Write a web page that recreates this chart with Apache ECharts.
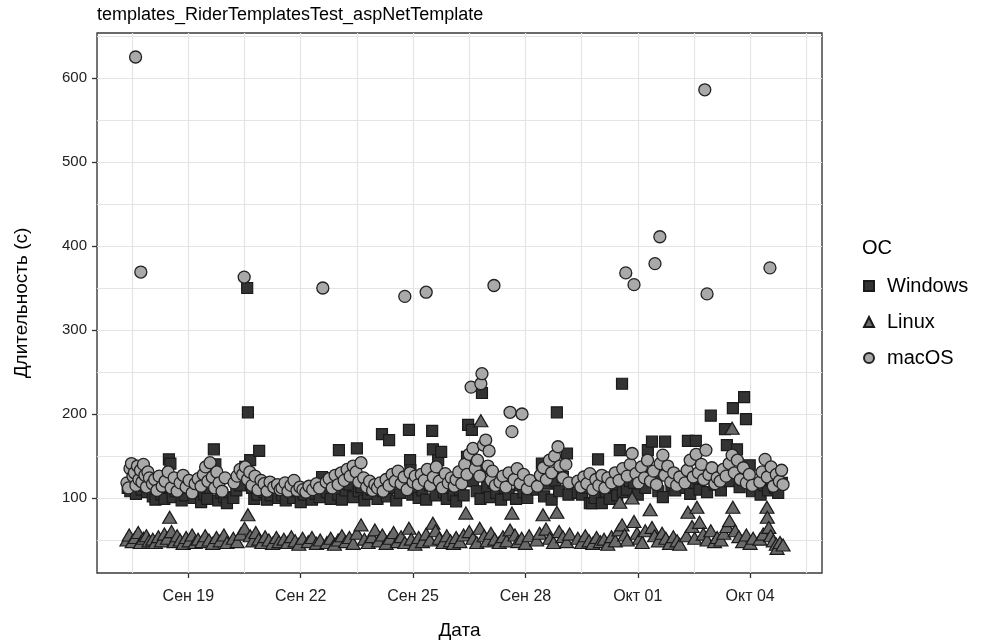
<!DOCTYPE html>
<html>
<head>
<meta charset="utf-8">
<script src="https://cdn.jsdelivr.net/npm/echarts@6/dist/echarts.min.js"></script>
<style>
  html, body { margin: 0; padding: 0; background: #fff; }
  #chart { width: 982px; height: 642px; }
</style>
</head>
<body>
<div id="chart"></div>
<script>
// Run durations per OS: [day (September numbering, Oct 1 = 31), seconds]
const windowsRuns = [
  [17.38,112],[17.45,108],[17.52,118],[17.6,105],[17.68,121],[17.75,110],[17.82,115],[17.9,107],[17.97,119],
  [18.05,102],[18.12,98],[18.2,111],[18.28,104],[18.36,99],[18.44,113],[18.48,146],[18.52,141],[18.58,101],[18.66,108],[18.74,120],[18.82,97],[18.9,103],[18.98,112],[19.06,116],[19.14,100],[19.22,109],
  [19.34,95],[19.42,104],[19.5,99],[19.58,112],[19.68,158],[19.72,140],[19.8,97],[19.88,106],[19.96,101],[20.03,94],
  [20.2,100],[20.28,109],[20.38,115],[20.46,128],[20.52,137],[20.57,350],[20.59,202],[20.65,145],[20.7,112],[20.76,99],[20.84,104],[20.89,156],[20.95,118],[21.02,107],[21.1,98],[21.2,103],[21.3,111],[21.4,100],
  [21.5,103],[21.6,97],[21.7,112],[21.8,100],[21.9,108],[22.0,95],[22.08,104],
  [22.2,110],[22.3,98],[22.4,105],[22.5,101],[22.57,125],
  [22.7,107],[22.8,99],[22.9,112],[23.0,104],[23.02,157],[23.1,98],[23.2,109],[23.3,116],[23.4,101],[23.5,159],[23.55,108],[23.62,113],[23.7,97],[23.8,105],[23.9,110],
  [24.05,99],[24.17,176],[24.2,108],[24.3,102],[24.36,169],[24.45,112],[24.55,97],[24.65,106],[24.75,118],[24.89,181],[24.92,145],[24.93,133],[24.98,104],[25.05,111],
  [25.15,100],[25.25,109],[25.35,98],[25.45,115],[25.51,180],[25.53,158],[25.6,103],[25.67,145],[25.75,155],[25.82,107],[25.9,99],[26.0,112],[26.08,104],
  [26.15,96],[26.25,110],[26.35,103],[26.44,149],[26.47,187],[26.57,181],[26.6,120],[26.7,108],[26.8,99],[26.84,225],[26.9,135],[26.98,113],[27.05,101],[27.15,118],[27.22,106],
  [27.35,98],[27.45,112],[27.55,104],[27.65,128],[27.75,99],[27.85,115],[27.95,107],[28.05,100],
  [28.3,110],[28.44,141],[28.5,102],[28.6,117],[28.7,98],[28.8,120],[28.84,202],[28.9,108],[29.0,125],[29.11,153],[29.15,104],
  [29.4,106],[29.51,104],[29.6,112],[29.72,94],[29.78,94],[29.85,100],[29.94,146],[30.04,94],[30.15,108],[30.25,99],[30.35,115],[30.45,103],[30.52,157],[30.58,236],[30.6,107],[30.71,110],[30.79,120],
  [30.9,118],[31.0,104],[31.1,126],[31.2,112],[31.27,157],[31.38,167],[31.45,121],[31.55,108],[31.67,101],[31.73,167],[31.8,130],[31.9,115],[32.0,109],[32.1,124],
  [32.28,112],[32.34,168],[32.4,105],[32.5,118],[32.55,168],[32.65,110],[32.75,124],[32.85,107],[32.95,198],[33.05,116],
  [33.22,109],[33.33,182],[33.38,163],[33.45,120],[33.54,207],[33.65,158],[33.72,113],[33.84,220],[33.89,194],[33.99,139],[34.05,108],
  [34.28,104],[34.38,115],[34.48,109],[34.58,121],[34.66,112],[34.75,106],[34.85,118]
];

const linuxRuns = [
  [17.36,50],[17.42,56],[17.5,48],[17.58,53],[17.66,59],[17.72,47],[17.8,52],[17.88,55],[17.95,49],
  [18.05,51],[18.12,47],[18.2,54],[18.28,49],[18.36,57],[18.44,52],[18.5,77],[18.55,60],[18.62,48],[18.7,55],[18.78,50],[18.86,46],[18.94,53],[19.02,49],[19.1,56],[19.18,47],[19.26,51],
  [19.36,48],[19.45,55],[19.55,50],[19.65,46],[19.75,53],[19.85,49],[19.95,56],[20.03,47],
  [20.2,52],[20.3,48],[20.4,57],[20.5,64],[20.59,80],[20.65,55],[20.72,49],[20.8,59],[20.88,51],[20.96,47],[21.05,54],[21.15,50],[21.25,46],[21.35,53],[21.42,48],
  [21.55,51],[21.65,47],[21.75,54],[21.85,49],[21.95,45],[22.05,52],
  [22.2,48],[22.3,53],[22.42,46],[22.52,50],
  [22.7,47],[22.8,52],[22.9,45],[23.0,50],[23.1,55],[23.2,48],[23.3,53],[23.4,46],[23.5,58],[23.61,68],[23.7,51],[23.8,47],[23.9,54],[23.98,62],
  [24.08,49],[24.18,56],[24.28,46],[24.38,52],[24.48,59],[24.58,48],[24.68,54],[24.78,47],[24.89,64],[24.95,51],[25.05,45],
  [25.15,53],[25.25,48],[25.35,57],[25.45,50],[25.53,70],[25.6,61],[25.7,52],[25.8,47],[25.9,55],[26.0,49],[26.08,46],
  [26.15,53],[26.25,48],[26.35,56],[26.41,82],[26.5,60],[26.6,52],[26.7,47],[26.78,64],[26.81,192],[26.9,55],[26.98,49],[27.08,58],[27.18,51],
  [27.3,47],[27.4,54],[27.5,49],[27.59,62],[27.64,82],[27.72,56],[27.8,48],[27.9,52],[28.0,46],[28.1,55],
  [28.3,50],[28.38,58],[28.47,80],[28.55,63],[28.65,52],[28.75,47],[28.84,83],[28.9,60],[29.0,54],[29.1,48],[29.18,57],
  [29.4,52],[29.5,47],[29.6,55],[29.7,49],[29.8,46],[29.9,53],[30.0,48],[30.1,51],[30.2,45],[30.3,54],[30.4,49],[30.5,62],[30.52,95],[30.58,68],[30.65,56],[30.72,50],
  [30.85,100],[30.9,72],[30.98,58],[31.05,52],[31.12,47],[31.2,61],[31.33,86],[31.38,65],[31.45,55],[31.55,49],[31.65,58],[31.75,52],[31.85,46],[31.95,54],[32.05,49],[32.12,45],
  [32.3,55],[32.34,83],[32.45,66],[32.52,52],[32.58,89],[32.65,71],[32.75,57],[32.85,50],[32.95,61],[33.05,48],[33.12,53],
  [33.22,50],[33.3,58],[33.38,66],[33.45,73],[33.52,183],[33.54,89],[33.6,61],[33.7,54],[33.8,48],[33.9,56],[34.0,46],[34.08,52],
  [34.26,51],[34.35,57],[34.45,89],[34.46,77],[34.5,65],[34.55,55],[34.62,49],[34.7,45],[34.72,40],[34.8,47],[34.88,44]
];

const macRuns = [
  [17.36,118],[17.4,112],[17.44,135],[17.48,141],[17.52,126],[17.56,130],[17.59,625],[17.6,115],[17.64,138],[17.68,122],[17.72,133],[17.73,369],[17.76,119],[17.8,140],[17.84,127],[17.88,113],[17.92,131],[17.96,124],
  [18.04,117],[18.1,122],[18.16,109],[18.22,126],[18.3,114],[18.38,120],[18.46,131],[18.54,112],[18.62,124],[18.7,108],[18.78,118],[18.86,127],[18.94,113],[19.02,121],[19.1,106],[19.18,117],[19.26,123],
  [19.34,114],[19.4,128],[19.46,137],[19.52,120],[19.58,142],[19.64,125],[19.7,112],[19.76,131],[19.82,118],[19.9,108],[19.98,124],
  [20.22,118],[20.3,126],[20.38,134],[20.45,128],[20.49,363],[20.52,137],[20.58,122],[20.64,131],[20.7,115],[20.78,126],[20.86,110],[20.94,121],[21.02,117],[21.1,108],[21.18,119],[21.28,113],[21.38,116],[21.45,110],
  [21.5,112],[21.58,118],[21.66,108],[21.74,115],[21.82,121],[21.9,109],[21.98,113],[22.06,110],
  [22.14,107],[22.22,114],[22.32,110],[22.42,117],[22.5,112],[22.59,350],
  [22.68,119],[22.76,123],[22.84,112],[22.92,127],[23.0,116],[23.08,130],[23.16,121],[23.24,134],[23.32,126],[23.4,138],[23.48,131],[23.55,119],[23.61,142],[23.68,124],[23.76,113],[23.84,120],[23.92,109],[23.98,116],
  [24.05,112],[24.12,118],[24.2,108],[24.28,122],[24.36,115],[24.44,128],[24.52,120],[24.6,132],[24.68,117],[24.76,125],[24.78,340],[24.84,110],[24.92,130],[25.0,119],[25.06,126],
  [25.14,116],[25.22,128],[25.3,121],[25.35,345],[25.38,134],[25.46,115],[25.54,125],[25.62,137],[25.7,120],[25.78,112],[25.86,129],[25.94,118],[26.02,124],[26.1,114],
  [26.15,122],[26.22,131],[26.3,117],[26.38,140],[26.44,128],[26.5,152],[26.55,232],[26.6,159],[26.66,135],[26.72,145],[26.78,126],[26.81,236],[26.84,248],[26.88,163],[26.94,169],[27.0,138],[27.03,156],[27.08,121],[27.12,132],[27.16,353],[27.2,115],
  [27.32,119],[27.4,126],[27.48,113],[27.56,130],[27.59,202],[27.64,179],[27.7,122],[27.78,135],[27.86,117],[27.91,200],[27.95,128],[28.05,111],[28.12,121],
  [28.32,114],[28.4,127],[28.48,136],[28.56,122],[28.64,145],[28.7,130],[28.78,150],[28.87,161],[28.92,138],[29.0,124],[29.08,140],[29.16,118],
  [29.4,120],[29.48,113],[29.56,125],[29.64,117],[29.72,129],[29.8,110],[29.88,122],[29.96,115],[30.04,127],[30.12,112],[30.2,124],[30.3,118],[30.4,130],[30.5,121],[30.6,135],[30.68,368],[30.72,126],[30.8,140],[30.9,354],
  [30.85,153],[30.95,129],[31.02,118],[31.1,137],[31.18,124],[31.26,145],[31.34,120],[31.42,132],[31.46,379],[31.5,116],[31.59,411],[31.6,141],[31.67,151],[31.72,127],[31.8,138],[31.88,119],[31.96,130],[32.04,115],[32.12,125],
  [32.26,118],[32.32,133],[32.4,145],[32.48,125],[32.56,152],[32.62,130],[32.7,140],[32.76,122],[32.79,586],[32.82,157],[32.85,343],[32.9,128],[32.98,136],[33.06,117],[33.12,124],
  [33.2,120],[33.28,134],[33.36,126],[33.44,141],[33.52,151],[33.58,130],[33.66,145],[33.74,122],[33.82,136],[33.9,118],[33.98,128],[34.06,115],
  [34.26,119],[34.32,131],[34.4,146],[34.46,125],[34.53,374],[34.56,137],[34.62,114],[34.7,128],[34.78,120],[34.84,133],[34.88,116]
];

// Axis ticks and labels
const dateTicks = [19, 22, 25, 28, 31, 34];
const dateTickLabels = ['Сен 19', 'Сен 22', 'Сен 25', 'Сен 28', 'Окт 01', 'Окт 04'];
const durationTicks = [100, 200, 300, 400, 500, 600];
// Background grid (major + minor)
const dateGridLines = [17.5, 19, 20.5, 22, 23.5, 25, 26.5, 28, 29.5, 31, 32.5, 34, 35.5];
const durationGridLines = [50, 100, 150, 200, 250, 300, 350, 400, 450, 500, 550, 600, 650];

const seriesNames = ['Windows', 'Linux', 'macOS'];

const FONT = "'Liberation Sans', Arial, Helvetica, sans-serif";
const INK = '#1a1a1a';

const chart = echarts.init(document.getElementById('chart'), null, { renderer: 'canvas' });

chart.setOption({
  animation: false,
  backgroundColor: '#ffffff',
  title: [
    {
      text: 'templates_RiderTemplatesTest_aspNetTemplate',
      left: 92, top: 1,
      textStyle: { fontFamily: FONT, fontSize: 18, fontWeight: 'normal', color: '#000' }
    },
    {
      text: 'OC',
      left: 857, top: 233,
      textStyle: { fontFamily: FONT, fontSize: 20, fontWeight: 'normal', color: '#000' }
    }
  ],
  legend: {
    orient: 'vertical',
    left: 858, top: 271,
    itemGap: 16,
    itemWidth: 10, itemHeight: 10,
    data: [
      { name: 'Windows', icon: 'rect' },
      { name: 'Linux', icon: 'triangle' },
      { name: 'macOS', icon: 'circle' }
    ],
    textStyle: { fontFamily: FONT, fontSize: 20, color: '#000', lineHeight: 20, padding: [0, 0, 0, 8] }
  },
  grid: {
    left: 97, top: 33, right: 160, bottom: 69,
    containLabel: false,
    outerBoundsMode: 'none',
    show: true, borderColor: '#3a3a3a', borderWidth: 1.4, backgroundColor: '#fff'
  },
  xAxis: {
    type: 'value',
    min: 16.56, max: 35.92,
    name: 'Дата',
    nameLocation: 'middle',
    nameGap: 48,
    nameTextStyle: { fontFamily: FONT, fontSize: 19, color: '#000' },
    axisLine: { show: false },
    splitLine: { show: false },
    axisTick: { show: true, length: 5, customValues: dateTicks, lineStyle: { color: '#333', width: 1.3 } },
    axisLabel: {
      customValues: dateTicks,
      margin: 16,
      fontFamily: FONT, fontSize: 16, color: '#222',
      formatter: v => dateTickLabels[dateTicks.indexOf(v)] || ''
    }
  },
  yAxis: {
    type: 'value',
    min: 10.7, max: 653.6,
    name: 'Длительность (с)',
    nameLocation: 'middle',
    nameGap: 66,
    nameRotate: 90,
    nameTextStyle: { fontFamily: FONT, fontSize: 19, color: '#000' },
    axisLine: { show: false },
    splitLine: { show: false },
    axisTick: { show: true, length: 5, customValues: durationTicks, lineStyle: { color: '#333', width: 1.3 } },
    axisLabel: {
      customValues: durationTicks,
      margin: 10,
      fontFamily: FONT, fontSize: 15, color: '#222'
    }
  },
  series: [
    {
      // background grid lines in data coordinates, kept beneath the points
      type: 'scatter',
      data: [],
      z: 0,
      silent: true,
      markLine: {
        z: 0,
        silent: true,
        animation: false,
        symbol: ['none', 'none'],
        label: { show: false },
        lineStyle: { color: '#e4e4e4', width: 1.2, type: 'solid' },
        emphasis: { disabled: true },
        data: dateGridLines.map(v => ({ xAxis: v }))
          .concat(durationGridLines.map(v => ({ yAxis: v })))
      }
    },
    {
      name: seriesNames[0],
      type: 'scatter',
      z: 3,
      symbol: 'rect',
      symbolSize: 11,
      data: windowsRuns,
      itemStyle: { color: '#333333', borderColor: INK, borderWidth: 1.2, opacity: 1 }
    },
    {
      name: seriesNames[1],
      type: 'scatter',
      z: 3,
      symbol: 'triangle',
      symbolSize: [14, 12],
      data: linuxRuns,
      itemStyle: { color: '#6a6a6a', borderColor: INK, borderWidth: 1.2, opacity: 1 }
    },
    {
      name: seriesNames[2],
      type: 'scatter',
      z: 3,
      symbol: 'circle',
      symbolSize: 12,
      data: macRuns,
      itemStyle: { color: '#a9a9a9', borderColor: '#222', borderWidth: 1.3, opacity: 1 }
    }
  ]
});
</script>
</body>
</html>
